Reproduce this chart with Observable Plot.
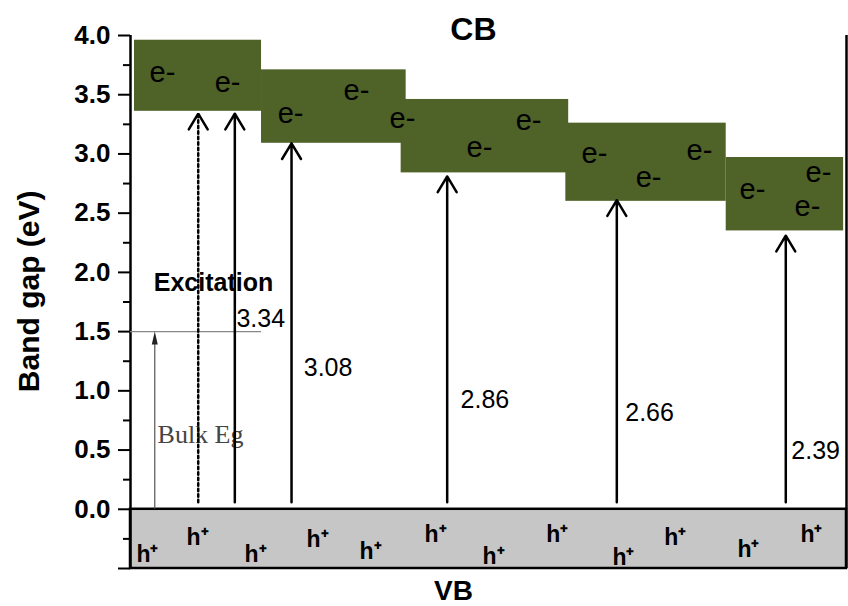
<!DOCTYPE html>
<html><head><meta charset="utf-8">
<script src="https://cdn.jsdelivr.net/npm/d3@7"></script>
<script src="https://cdn.jsdelivr.net/npm/@observablehq/plot@0.6"></script>
<style>
body{margin:0;background:#fff;}
#chart svg{display:block;}
</style></head><body><div id="chart"></div>
<script>
// ---- data ----
const majorTicks = [-0.5, 0, 0.5, 1, 1.5, 2, 2.5, 3, 3.5, 4];
const minorTicks = [-0.25, 0.25, 0.75, 1.25, 1.75, 2.25, 2.75, 3.25, 3.75];
// conduction band blocks (x in relative position units 0..100)
const cbX1 = [0.56, 18.3, 37.8, 60.8, 83.2];
const cbX2 = [18.3, 38.5, 61.2, 83.2, 99.6];
const cbBottom = [3.36, 3.09, 2.84, 2.60, 2.35];
const cbTop = [3.96, 3.71, 3.46, 3.26, 2.97];
// band-gap arrows
const gapLabels = ["3.34", "3.08", "2.86", "2.66", "2.39"];
const arrowX = [14.57, 22.49, 44.23, 67.92, 91.52];
const arrowTip = [3.34, 3.09, 2.81, 2.61, 2.31];
const arrowBase = 0.06;
const labelX = [14.8, 24.2, 46.1, 69.1, 92.3];
const labelY = [1.61, 1.19, 0.92, 0.81, 0.49];
// excitation (dotted) arrow
const dottedX = [9.46];
const dottedTip = 3.34;
// bulk band gap
const bulkX = [3.39];
const bulkEg = 1.5;
const bulkLineEnd = 18.3;
// electrons in CB
const eX = [4.47, 13.55, 22.35, 31.56, 37.99, 48.74, 55.59, 64.8, 72.35, 79.47, 86.87, 96.09, 94.55];
const eY = [3.688, 3.604, 3.342, 3.536, 3.300, 3.056, 3.283, 3.005, 2.803, 3.030, 2.702, 2.845, 2.558];
// holes in VB
const hX = [2.37, 9.36, 17.46, 26.12, 33.52, 42.6, 50.7, 59.6, 68.85, 76.1, 86.3, 95.1];
const hY = [-0.384, -0.241, -0.384, -0.258, -0.359, -0.216, -0.401, -0.216, -0.41, -0.241, -0.342, -0.216];
const vbTop = 0, vbBottom = -0.5;

// ---- tables ----
const cb = cbX1.map((x1, i) => ({x1, x2: cbX2[i], y1: cbBottom[i], y2: cbTop[i]}));
const gaps = arrowX.map((x, i) => ({x, tip: arrowTip[i], label: gapLabels[i], lx: labelX[i], ly: labelY[i]}));
const electrons = eX.map((x, i) => ({x, y: eY[i]}));
const holes = hX.map((x, i) => ({x, y: hY[i]}));

const SANS = "'Liberation Sans', Arial, Helvetica, sans-serif";

const plot = Plot.plot({
  width: 848, height: 606,
  marginLeft: 130, marginRight: 2, marginTop: 35, marginBottom: 38,
  x: {domain: [0, 100], axis: null},
  y: {domain: [vbBottom, 4]},
  style: {fontFamily: SANS, background: "#fff", color: "#000"},
  marks: [
    Plot.rect(cb, {x1: "x1", x2: "x2", y1: "y1", y2: "y2", fill: "#4f6228"}),
    Plot.rect([0], {x1: 0, x2: 100, y1: vbBottom, y2: vbTop, fill: "#c6c6c6", stroke: "#000", strokeWidth: 2.5}),
    Plot.axisY(majorTicks, {tickSize: 12, tickPadding: 8, strokeWidth: 2, fontSize: 26, fontWeight: "bold",
      tickFormat: d => d < 0 ? "" : d.toFixed(1), label: null}),
    Plot.axisY(minorTicks, {tickSize: 7, strokeWidth: 2, tickFormat: () => "", label: null}),
    Plot.ruleX([0], {y1: vbBottom, y2: 4, strokeWidth: 2.5}),
    Plot.ruleX([100], {y1: vbBottom, y2: 4, strokeWidth: 2.5}),
    // texts
    Plot.text(["Bulk Eg"], {x: 9.78, y: 0.627, fontFamily: "'Liberation Serif', 'Times New Roman', serif", fontSize: 26, fill: "#444"}),
    Plot.text(["Excitation"], {x: 11.59, y: 1.909, fontSize: 25, fontWeight: "bold"}),
    Plot.text(electrons, {x: "x", y: "y", text: () => "e-", fontSize: 29}),
    Plot.text(holes, {x: "x", y: "y", text: () => "h\u207A", fontSize: 23, fontWeight: "bold"}),
    Plot.text(gaps, {x: "lx", y: "ly", text: "label", textAnchor: "start", fontSize: 25}),
    // bulk Eg arrow
    Plot.ruleY([bulkEg], {x1: 0, x2: bulkLineEnd, stroke: "#888", strokeWidth: 1.2}),
    Plot.ruleX(bulkX, {y1: vbTop, y2: bulkEg - 0.05, stroke: "#555", strokeWidth: 1.2}),
    Plot.vector(bulkX, {x: d => d, y: bulkEg, length: 13, shape: "spike", r: 3, anchor: "end", fill: "#222", stroke: "none"}),
    // arrows
    Plot.arrow(dottedX, {x: d => d, y1: arrowBase, y2: dottedTip, strokeWidth: 2.5, headLength: 11, headAngle: 62, strokeDasharray: "2.5,3"}),
    Plot.arrow(gaps, {x: "x", y1: arrowBase, y2: "tip", strokeWidth: 2.5, headLength: 11, headAngle: 62}),
    // titles
    Plot.text(["CB"], {x: 47.9, y: 4, dy: -6, fontSize: 32, fontWeight: "bold"}),
    Plot.text(["VB"], {x: 45.1, y: vbBottom, dy: 23, fontSize: 28, fontWeight: "bold"}),
    Plot.text(["Band gap (eV)"], {frameAnchor: "left", y: 1.84, dx: -101, rotate: -90, textAnchor: "middle", fontSize: 30, fontWeight: "bold"})
  ]
});
document.getElementById("chart").appendChild(plot);

// make the dotted arrow's head solid (split Plot's own path into shaft + head)
plot.querySelectorAll('g[aria-label="arrow"][stroke-dasharray] path').forEach(p => {
  const d = p.getAttribute("d") || "";
  const parts = d.split(/(?=M)/);
  if (parts.length > 1) {
    p.setAttribute("d", parts[0]);
    const head = p.cloneNode();
    head.setAttribute("d", parts.slice(1).join(""));
    head.setAttribute("stroke-dasharray", "none");
    p.parentNode.appendChild(head);
  }
});
</script></body></html>
